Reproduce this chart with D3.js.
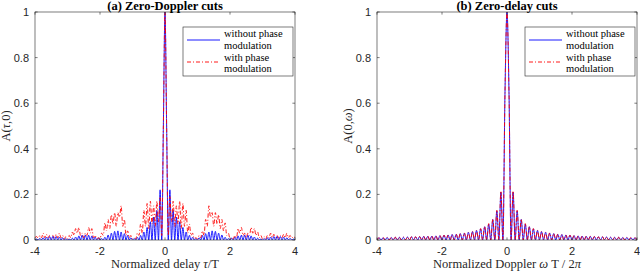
<!DOCTYPE html>
<html><head><meta charset="utf-8">
<script src="https://cdn.jsdelivr.net/npm/d3@7"></script>
<style>body{margin:0;background:#fff}</style>
</head><body><svg id="c" width="640" height="271"></svg>
<script>
const xTicks = [-4, -2, 0, 2, 4];
const yTicks = [0, 0.2, 0.4, 0.6, 0.8, 1];
const yTickLabels = ["0", "0.2", "0.4", "0.6", "0.8", "1"];
const titles = ["(a) Zero-Doppler cuts", "(b) Zero-delay cuts"];
const legendLabels = [["without phase", "modulation"], ["with phase", "modulation"]];

// zero-Doppler cut, sampled every 0.05 on tau/T >= 0 (curve is symmetric)
const delayStep = 0.05;
const delayBlue = [1, 0.5, 0, 0.22, 0, 0.13, 0, 0.10, 0, 0.08, 0, 0.055, 0, 0.035, 0, 0.02, 0, 0.012, 0, 0.006,
  0, 0.01, 0, 0.02, 0, 0.028, 0, 0.035, 0, 0.04, 0, 0.038, 0, 0.03, 0, 0.022, 0, 0.012, 0, 0.006,
  0, 0.008, 0, 0.013, 0, 0.018, 0, 0.021, 0, 0.022, 0, 0.021, 0, 0.018, 0, 0.013, 0, 0.008, 0, 0.004,
  0, 0.006, 0, 0.01, 0, 0.013, 0, 0.015, 0, 0.016, 0, 0.015, 0, 0.013, 0, 0.01, 0, 0.007, 0, 0.004, 0];
const delayRed = [1, 0.5, 0.02, 0.19, 0.08, 0.17, 0.06, 0.15, 0.07, 0.17, 0.05, 0.16, 0.06, 0.13, 0.03, 0.07, 0.02, 0.03, 0.005, 0.01,
  0.005, 0.02, 0.01, 0.04, 0.02, 0.09, 0.06, 0.15, 0.10, 0.12, 0.06, 0.12, 0.07, 0.11, 0.05, 0.09, 0.04, 0.075, 0.02, 0.03,
  0.005, 0.01, 0.005, 0.02, 0.01, 0.05, 0.03, 0.055, 0.02, 0.03, 0.01, 0.03, 0.02, 0.055, 0.03, 0.05, 0.02, 0.035, 0.01, 0.02,
  0.005, 0.015, 0.005, 0.02, 0.01, 0.03, 0.01, 0.025, 0.01, 0.02, 0.008, 0.02, 0.01, 0.025, 0.01, 0.03, 0.01, 0.02, 0.008, 0.015, 0.01];

// zero-delay cut, sampled every 0.0625 on omega T / 2pi >= 0
const dopplerStep = 0.0625;
const dopplerBlue = [1, 0.64, 0, 0.21, 0, 0.128, 0, 0.09, 0, 0.07, 0, 0.058, 0, 0.049, 0, 0.042, 0, 0.037, 0, 0.034,
  0, 0.03, 0, 0.028, 0, 0.025, 0, 0.024, 0, 0.022, 0, 0.021, 0, 0.019, 0, 0.018, 0, 0.017, 0, 0.016,
  0, 0.016, 0, 0.015, 0, 0.014, 0, 0.014, 0, 0.013, 0, 0.012, 0, 0.012, 0, 0.012, 0, 0.011, 0, 0.011,
  0, 0.01, 0, 0.01, 0];
const dopplerRed = [1, 0.64, 0, 0.215, 0, 0.13, 0, 0.092, 0, 0.072, 0, 0.059, 0, 0.05, 0, 0.043, 0, 0.038, 0, 0.034,
  0, 0.031, 0, 0.028, 0, 0.026, 0, 0.024, 0, 0.022, 0, 0.021, 0, 0.02, 0, 0.018, 0, 0.017, 0, 0.017,
  0, 0.016, 0, 0.015, 0, 0.014, 0, 0.014, 0, 0.013, 0, 0.013, 0, 0.012, 0, 0.012, 0, 0.011, 0, 0.011,
  0, 0.011, 0, 0.01, 0];

function mirror(vals, step) {
  const pos = vals.map((v, i) => [i * step, v]);
  const neg = pos.slice(1).reverse().map(([x, v]) => [-x, v]);
  return neg.concat(pos);
}

const svg = d3.select("#c");
const panels = [
  {x0: 35, x1: 295, blue: mirror(delayBlue, delayStep), red: mirror(delayRed, delayStep),
   xlab: [["Normalized delay ", false], ["\u03C4", true], ["/T", false]],
   ylab: [["A(", false], ["\u03C4", true], [",0)", false]]},
  {x0: 377, x1: 637, blue: mirror(dopplerBlue, dopplerStep), red: mirror(dopplerRed, dopplerStep),
   xlab: [["Normalized Doppler ", false], ["\u03C9", true], [" T / 2", false], ["\u03C0", true]],
   ylab: [["A(0,", false], ["\u03C9", true], [")", false]]}
];
const yTop = 12, yBot = 240;
const axisColor = "#262626";
const serif = "Liberation Serif, Times New Roman, serif";
const sans = "Liberation Sans, Arial, sans-serif";

panels.forEach((p, pi) => {
  const x = d3.scaleLinear().domain([-4, 4]).range([p.x0, p.x1]);
  const y = d3.scaleLinear().domain([0, 1]).range([yBot, yTop]);
  const g = svg.append("g");
  const clipId = "clip" + pi;
  svg.append("defs").append("clipPath").attr("id", clipId).append("rect")
    .attr("x", p.x0).attr("y", yTop - 1).attr("width", p.x1 - p.x0).attr("height", yBot - yTop + 1);

  const line = d3.line().x(d => x(d[0])).y(d => y(d[1])).curve(d3.curveMonotoneX);
  const lg = g.append("g").attr("clip-path", `url(#${clipId})`);
  lg.append("path").attr("d", line(p.blue)).attr("fill", "none")
    .attr("stroke", "#0000ff").attr("stroke-width", 0.9);
  lg.append("path").attr("d", line(p.red)).attr("fill", "none")
    .attr("stroke", "#ff0000").attr("stroke-width", 0.9).attr("stroke-dasharray", "4,2,1,2");

  // box
  g.append("rect").attr("x", p.x0).attr("y", yTop).attr("width", p.x1 - p.x0).attr("height", yBot - yTop)
    .attr("fill", "none").attr("stroke", axisColor).attr("stroke-width", 0.6);
  const tl = 2.6;
  xTicks.forEach(t => {
    g.append("line").attr("x1", x(t)).attr("x2", x(t)).attr("y1", yBot).attr("y2", yBot - tl).attr("stroke", axisColor).attr("stroke-width", 0.6);
    g.append("line").attr("x1", x(t)).attr("x2", x(t)).attr("y1", yTop).attr("y2", yTop + tl).attr("stroke", axisColor).attr("stroke-width", 0.6);
    g.append("text").attr("x", x(t)).attr("y", 254.5).attr("text-anchor", "middle")
      .attr("font-family", sans).attr("font-size", 11).attr("fill", axisColor).text(t);
  });
  yTicks.forEach((t, i) => {
    g.append("line").attr("x1", p.x0).attr("x2", p.x0 + tl).attr("y1", y(t)).attr("y2", y(t)).attr("stroke", axisColor).attr("stroke-width", 0.6);
    g.append("line").attr("x1", p.x1).attr("x2", p.x1 - tl).attr("y1", y(t)).attr("y2", y(t)).attr("stroke", axisColor).attr("stroke-width", 0.6);
    g.append("text").attr("x", p.x0 - 6).attr("y", y(t) + 4).attr("text-anchor", "end")
      .attr("font-family", sans).attr("font-size", 11).attr("fill", axisColor).text(yTickLabels[i]);
  });

  // title
  g.append("text").attr("x", (p.x0 + p.x1) / 2).attr("y", 9.5).attr("text-anchor", "middle")
    .attr("font-family", serif).attr("font-weight", "bold")
    .attr("font-size", 12.5).attr("fill", "#000").text(titles[pi]);

  // x label
  const xl = g.append("text").attr("x", (p.x0 + p.x1) / 2).attr("y", 267.5).attr("text-anchor", "middle")
    .attr("font-family", serif).attr("font-size", 12.5).attr("fill", axisColor);
  p.xlab.forEach(([s, it]) => xl.append("tspan").attr("font-style", it ? "italic" : "normal").text(s));
  // y label
  const yl = g.append("text").attr("transform", `translate(${p.x0 - 25},${(yTop + yBot) / 2}) rotate(-90)`)
    .attr("text-anchor", "middle").attr("font-family", serif)
    .attr("font-size", 12.5).attr("fill", axisColor);
  p.ylab.forEach(([s, it]) => yl.append("tspan").attr("font-style", it ? "italic" : "normal").text(s));

  // legend
  const lx0 = p.x1 - 112, ly0 = 27;
  g.append("rect").attr("x", lx0).attr("y", ly0).attr("width", 110).attr("height", 49)
    .attr("fill", "#fff").attr("stroke", axisColor).attr("stroke-width", 0.6);
  const sampleY = [40, 62];
  const textY = [[37, 48.5], [60.5, 72]];
  ["#0000ff", "#ff0000"].forEach((c, k) => {
    const ln = g.append("line").attr("x1", lx0 + 4).attr("x2", lx0 + 37).attr("y1", sampleY[k]).attr("y2", sampleY[k])
      .attr("stroke", c).attr("stroke-width", 0.9);
    if (k === 1) ln.attr("stroke-dasharray", "4,2,1,2");
    legendLabels[k].forEach((s, j) => {
      g.append("text").attr("x", lx0 + 41).attr("y", textY[k][j])
        .attr("font-family", serif).attr("font-size", 10.5).attr("textLength", null)
        .attr("fill", "#000").text(s);
    });
  });
});
</script></body></html>
